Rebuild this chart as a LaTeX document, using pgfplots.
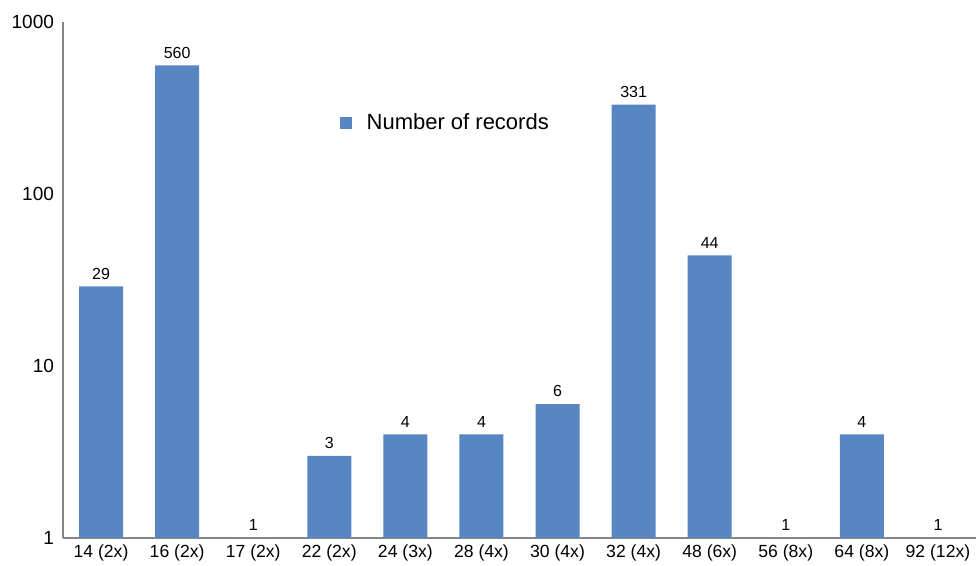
\documentclass[border=0pt]{standalone}
\usepackage{pgfplots}
\pgfplotsset{compat=1.18}
\usepackage{fontspec}
\setmainfont{Liberation Sans}
\definecolor{barblue}{RGB}{88,134,194}
\definecolor{axisgray}{RGB}{134,134,134}
\begin{document}
\begin{tikzpicture}
\begin{axis}[
  name=ax,
  scale only axis,
  width=456.5pt, height=258pt,
  ybar, bar width=22pt,
  ymode=log, ymin=1, ymax=1000,
  xmin=-0.5, xmax=11.5,
  xtick={0,...,11},
  xticklabels={14 (2x),16 (2x),17 (2x),22 (2x),24 (3x),28 (4x),30 (4x),32 (4x),48 (6x),56 (8x),64 (8x),92 (12x)},
  ytick={1,10,100,1000},
  yticklabels={1,10,100,1000},
  minor ytick={},
  axis x line*=bottom, axis y line*=left,
  axis line style={-, draw=axisgray, line width=0.6pt},
  major tick length=0pt, minor tick length=0pt,
  tick style={draw=none},
  xticklabel style={font=\fontsize{8.8}{10}\selectfont},
  yticklabel style={font=\fontsize{9.5}{11}\selectfont, xshift=-1pt},
  point meta=rawy,
  nodes near coords,
  nodes near coords style={font=\fontsize{8}{9}\selectfont, text=black},
  legend style={draw=none, fill=none, at={(0.296,0.804)}, anchor=west,
    font=\fontsize{11}{13}\selectfont},
  legend image code/.code={\fill[barblue] (0pt,-3pt) rectangle (6pt,3pt); \path (11.5pt,0pt);},
  /pgf/number format/assume math mode=true,
]
\addplot[fill=barblue, draw=none] coordinates {
  (0,29) (1,560) (2,1) (3,3) (4,4) (5,4) (6,6) (7,331) (8,44) (9,1) (10,4) (11,1)
};
\legend{Number of records}
\end{axis}
\pgfresetboundingbox
\path[use as bounding box] ([xshift=-31.5pt,yshift=-14pt]ax.south west) rectangle ([yshift=11pt]ax.north east);
\end{tikzpicture}
\end{document}
